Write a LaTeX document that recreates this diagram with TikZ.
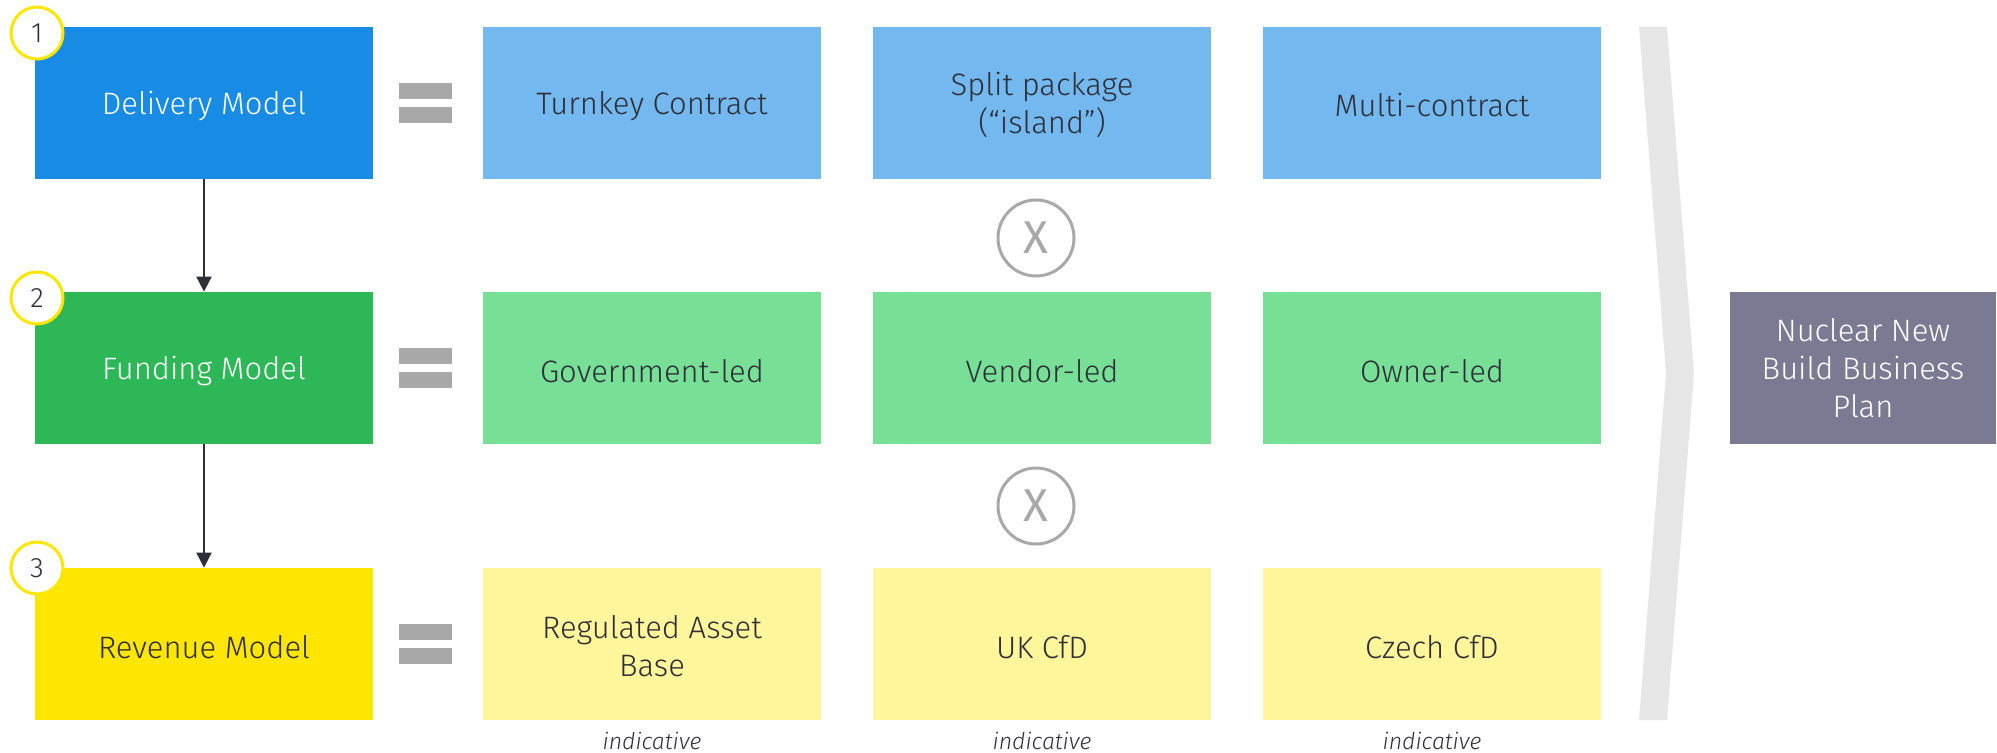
\documentclass[tikz,border=0pt]{standalone}
\usepackage{fontspec}
\setmainfont{Fira Sans Light}
\newfontfamily\xfont{Fira Sans}
\usetikzlibrary{arrows.meta}
\definecolor{eydark}{HTML}{2E2E38}
\definecolor{delblue}{HTML}{188CE5}
\definecolor{ltblue}{HTML}{73B9EF}
\definecolor{fundgreen}{HTML}{2DB757}
\definecolor{ltgreen}{HTML}{77DF96}
\definecolor{revyellow}{HTML}{FFE600}
\definecolor{ltyellow}{HTML}{FFF59A}
\definecolor{eqgray}{HTML}{A8A8A8}
\definecolor{chevgray}{HTML}{E6E6E6}
\definecolor{planbox}{HTML}{7A7A92}
\tikzset{
  modelbox/.style={rectangle, inner sep=0pt, minimum width=169pt, minimum height=76pt},
  boxtext/.style={inner sep=0pt, align=center, font=\fontsize{15.5pt}{19pt}\selectfont, text=#1},
  boxtext/.default=eydark,
  optbox/.style={modelbox, fill=#1},
  numcirc/.style={circle, draw=revyellow, line width=1.5pt, fill=white, minimum size=26pt, inner sep=0pt, text=eydark, font=\fontsize{14pt}{16pt}\selectfont},
  xcirc/.style={circle, draw=eqgray, line width=1.5pt, minimum size=38pt, inner sep=0pt, text=eqgray, font=\xfont\fontsize{23pt}{24pt}\selectfont},
  eqbar/.style={fill=eqgray, draw=none},
  flowarrow/.style={draw=eydark, line width=1pt, -{Triangle[length=7.5pt,width=7.5pt]}},
  indic/.style={text=eydark, font=\fontsize{11.5pt}{13pt}\selectfont\itshape},
}
\begin{document}
\begin{tikzpicture}[x=0.5pt,y=-0.5pt]
\useasboundingbox (0,0) rectangle (1997,753);

% chevron
\fill[chevgray] (1639,27) -- (1667,27) -- (1694,373) -- (1667,720) -- (1639,720) -- (1666,373) -- cycle;

% model boxes
\node[modelbox, fill=delblue] (del) at (204,103) {};
\node[modelbox, fill=fundgreen] (fund) at (204,368) {};
\node[modelbox, fill=revyellow] (rev) at (204,644) {};
\node[boxtext=white] (delt) at ([yshift=-1.6pt]del.center) {Delivery Model};
\node[boxtext=white] (fundt) at ([yshift=-1.6pt]fund.center) {Funding Model};
\node[boxtext] (revt) at ([yshift=-1.6pt]rev.center) {Revenue Model};

% number circles
\node[numcirc] (n1) at (37,33) {1};
\node[numcirc] (n2) at (37,298) {2};
\node[numcirc] (n3) at (37,568) {3};

% arrows
\draw[flowarrow] (del.south) -- (fund.north);
\draw[flowarrow] (fund.south) -- (rev.north);

% equals signs
\foreach \yy in {0,265,541} {
  \fill[eqbar] (399,83+\yy) rectangle (452,99+\yy);
  \fill[eqbar] (399,107+\yy) rectangle (452,123+\yy);
}

% option boxes
\node[optbox=ltblue] (d1) at (652,103) {};
\node[optbox=ltblue] (d2) at (1042,103) {};
\node[optbox=ltblue] (d3) at (1432,103) {};
\node[optbox=ltgreen] (f1) at (652,368) {};
\node[optbox=ltgreen] (f2) at (1042,368) {};
\node[optbox=ltgreen] (f3) at (1432,368) {};
\node[optbox=ltyellow] (r1) at (652,644) {};
\node[optbox=ltyellow] (r2) at (1042,644) {};
\node[optbox=ltyellow] (r3) at (1432,644) {};
\node[boxtext] (d1t) at ([yshift=-1.6pt]d1.center) {Turnkey Contract};
\node[boxtext] (d2t) at ([yshift=-1pt]d2.center) {Split package\\(“island”)};
\node[boxtext] (d3t) at ([yshift=-1.2pt]d3.center) {Multi-contract};
\node[boxtext] (f1t) at ([yshift=-1.6pt]f1.center) {Government-led};
\node[boxtext] (f2t) at ([yshift=-1.6pt]f2.center) {Vendor-led};
\node[boxtext] (f3t) at ([yshift=-1.6pt]f3.center) {Owner-led};
\node[boxtext] (r1t) at ([yshift=-1pt]r1.center) {Regulated Asset\\Base};
\node[boxtext] (r2t) at ([yshift=-1.6pt]r2.center) {UK CfD};
\node[boxtext] (r3t) at ([yshift=-1.6pt]r3.center) {Czech CfD};

% X circles
\node[xcirc] (x1) at (1036,238) {X};
\node[xcirc] (x2) at (1036,506) {X};

% indicative labels
\node[indic] (i1) at (652,741) {indicative};
\node[indic] (i2) at (1042,741) {indicative};
\node[indic] (i3) at (1432,741) {indicative};

% result box
\node[rectangle, inner sep=0pt, minimum width=133pt, minimum height=76pt, fill=planbox] (plan) at (1863,368) {};
\node[boxtext=white] (plant) at (plan.center) {Nuclear New\\Build Business\\Plan};
\end{tikzpicture}
\end{document}
